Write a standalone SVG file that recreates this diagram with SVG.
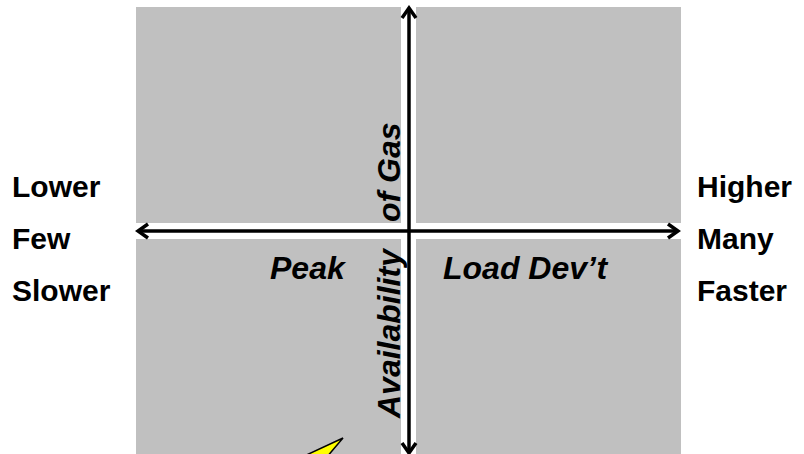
<svg xmlns="http://www.w3.org/2000/svg" width="804" height="454" viewBox="0 0 804 454">
<style>
.q{fill:#C0C0C0}
.lbl{font-family:"Liberation Sans",Arial,sans-serif;font-weight:bold;font-size:30px;fill:#000}
.it{font-style:italic;font-size:32px}
.ax{stroke:#000;stroke-width:3.5;fill:none}
</style>
<defs>
<marker id="ah" markerUnits="userSpaceOnUse" viewBox="0 0 20 20" refX="17" refY="10" markerWidth="20" markerHeight="20" orient="auto-start-reverse">
<path d="M7 3 L17 10 L7 17" fill="none" stroke="#000" stroke-width="3.5"/>
</marker>
</defs>
<rect width="804" height="454" fill="#fff"/>
<g id="q-tl"><rect class="q" x="136" y="7" width="265" height="216"/></g>
<g id="q-tr"><rect class="q" x="416" y="7" width="265" height="216"/></g>
<g id="q-bl"><rect class="q" x="136" y="239" width="265" height="220"/></g>
<g id="q-br"><rect class="q" x="416" y="239" width="265" height="220"/></g>
<g id="connectors">
<line class="ax" x1="138" y1="231" x2="678" y2="231" marker-start="url(#ah)" marker-end="url(#ah)"/>
<line class="ax" x1="409" y1="8" x2="409" y2="453" marker-start="url(#ah)" marker-end="url(#ah)"/>
<polygon points="343,438 300,458 326,458" fill="#FFFF00" stroke="#000" stroke-width="1.5"/>
</g>
<g id="labels-left">
<text class="lbl" x="12" y="197">Lower</text>
<text class="lbl" x="12" y="249">Few</text>
<text class="lbl" x="12" y="301">Slower</text>
</g>
<g id="labels-right">
<text class="lbl" x="697" y="197">Higher</text>
<text class="lbl" x="697" y="249">Many</text>
<text class="lbl" x="697" y="301">Faster</text>
</g>
<g id="quadrant-labels">
<text class="lbl it" x="270" y="279">Peak</text>
<text class="lbl it" x="443" y="279">Load Dev’t</text>
</g>
<g id="axis-label">
<text class="lbl it" transform="translate(400,418) rotate(-90)">Availability</text>
<text class="lbl it" transform="translate(400,222) rotate(-90)">of Gas</text>
</g>
</svg>
